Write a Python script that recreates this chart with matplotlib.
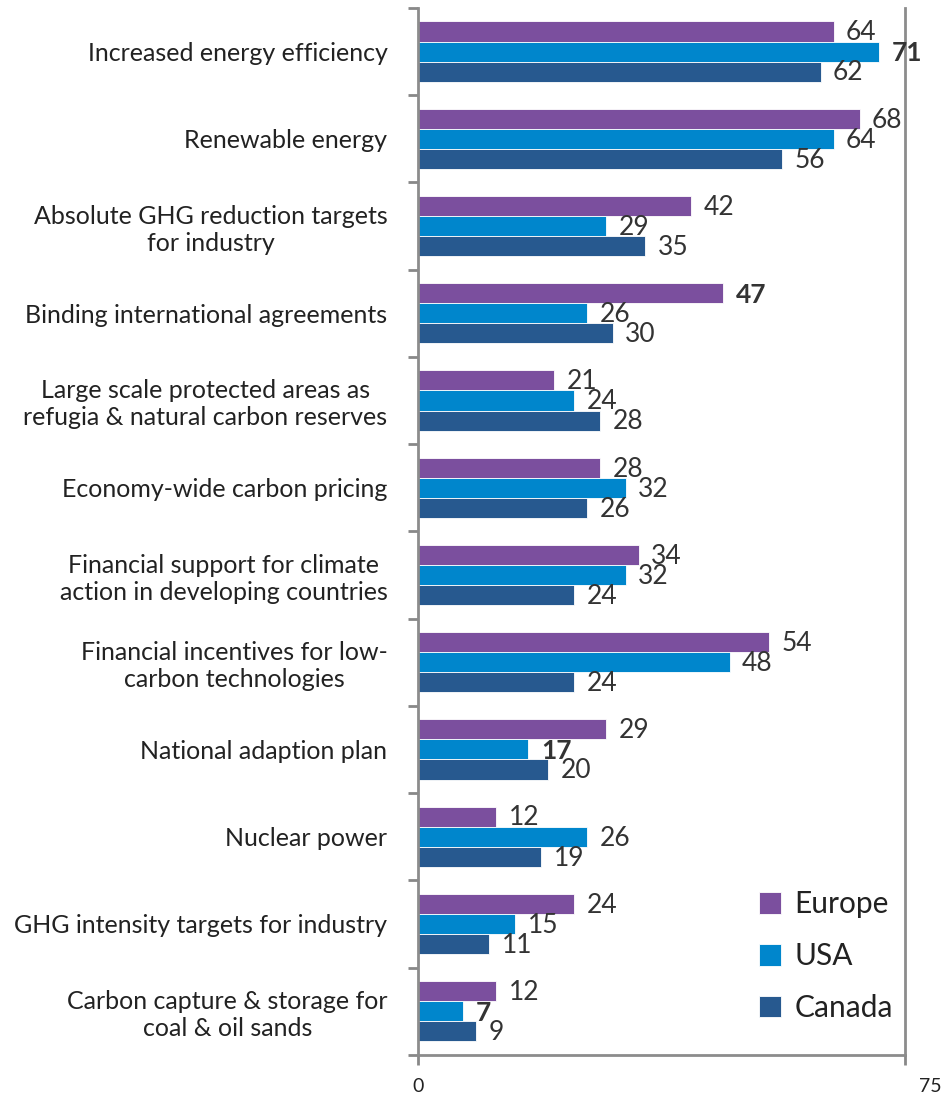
import matplotlib
matplotlib.use("Agg")
from matplotlib import pyplot as plt
from matplotlib.transforms import ScaledTranslation
import numpy as np

categories = [
    "Increased energy efficiency",
    "Renewable energy",
    "Absolute GHG reduction targets\nfor industry",
    "Binding international agreements",
    "Large scale protected areas as\nrefugia & natural carbon reserves",
    "Economy-wide carbon pricing",
    "Financial support for climate\naction in developing countries",
    "Financial incentives for low-\ncarbon technologies",
    "National adaption plan",
    "Nuclear power",
    "GHG intensity targets for industry",
    "Carbon capture & storage for\ncoal & oil sands",
]
europe = [64, 68, 42, 47, 21, 28, 34, 54, 29, 12, 24, 12]
usa = [71, 64, 29, 26, 24, 32, 32, 48, 17, 26, 15, 7]
canada = [62, 56, 35, 30, 28, 26, 24, 24, 20, 19, 11, 9]
series_names = ["Europe", "USA", "Canada"]
colors = ["#7b4f9e", "#0086cc", "#27598f"]

# labels that came out heavier in the original rendering
bold_labels = {("USA", 0), ("Europe", 3), ("USA", 8), ("USA", 11)}

plt.rcParams['font.family'] = ['Lato', 'DejaVu Sans']

fig = plt.figure(figsize=(9.5, 11.01), dpi=100)
ax = fig.add_axes([0.44, 0.042, 0.5126, 0.9508])

n = len(categories)
y = np.arange(n)
h = 0.23
offsets = [-h, 0, h]

for name, vals, col, off in zip(series_names, [europe, usa, canada], colors, offsets):
    bars = ax.barh(y + off, vals, height=h, color=col, label=name,
                   edgecolor="white", linewidth=0.6)
    for i, (b, v) in enumerate(zip(bars, vals)):
        ax.annotate(str(v), (b.get_width(), b.get_y() + b.get_height() / 2),
                    xytext=(9, -1), textcoords="offset points",
                    va="center", ha="left", fontsize=19, color="#333333",
                    fontweight="bold" if (name, i) in bold_labels else "normal")

ax.set_xlim(0, 75)
ax.set_ylim(n - 0.5, -0.5)

ax.set_yticks(y)
ax.set_yticklabels(categories, fontsize=18, color="#222222", multialignment="center")
ax.set_yticks(np.arange(-0.5, n, 1), minor=True)
ax.tick_params(axis="y", which="major", length=0, pad=22)
ax.tick_params(axis="y", which="minor", length=7, width=2, color="#888888", direction="out")

ax.set_xticks([0, 75])
ax.set_xticklabels(["0", "75"], fontsize=14, color="#222222")
ax.tick_params(axis="x", length=7, width=2, color="#888888", direction="out", pad=10)
lab75 = ax.get_xticklabels()[-1]
lab75.set_transform(lab75.get_transform() + ScaledTranslation(0.25, 0, fig.dpi_scale_trans))

for side in ["left", "bottom", "right"]:
    ax.spines[side].set_color("#8c8c8c")
    ax.spines[side].set_linewidth(2)
ax.spines["top"].set_visible(False)

leg = ax.legend(loc="lower right", bbox_to_anchor=(1.0, 0.02), frameon=False,
                fontsize=21.5, handlelength=0.75, handleheight=0.75,
                labelspacing=0.8, handletextpad=0.45, borderaxespad=0.0)
for t in leg.get_texts():
    t.set_color("#222222")

fig.savefig("out.png", dpi=100)
